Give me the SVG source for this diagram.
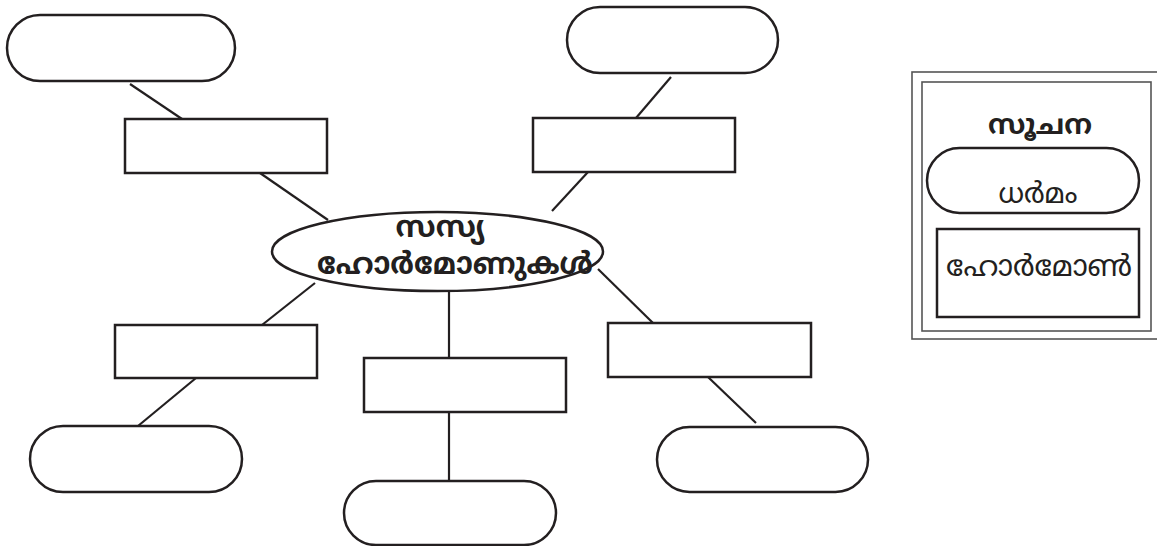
<svg xmlns="http://www.w3.org/2000/svg" width="1157" height="546" viewBox="0 0 1157 546">
<style>
.n{fill:#fff;stroke:#231f20;stroke-width:2.5}
.c{stroke:#231f20;stroke-width:2.2;fill:none}
.f{fill:none;stroke:#555;stroke-width:1.6}
.t{font-family:"Noto Sans Malayalam","Noto Sans","DejaVu Sans",sans-serif;fill:#231f20;text-anchor:middle}
.b{font-weight:bold}
</style>
<rect width="1157" height="546" fill="#fff"/>
<g id="connectors">
<line class="c" x1="130" y1="84" x2="182" y2="119"/>
<line class="c" x1="260" y1="173" x2="328" y2="220"/>
<line class="c" x1="671" y1="77" x2="636" y2="118"/>
<line class="c" x1="588" y1="172" x2="552" y2="211"/>
<line class="c" x1="598" y1="269" x2="653" y2="323"/>
<line class="c" x1="708" y1="377" x2="756" y2="423"/>
<line class="c" x1="315" y1="283" x2="262" y2="325"/>
<line class="c" x1="196" y1="378" x2="138" y2="426"/>
<line class="c" x1="449" y1="291" x2="449" y2="358"/>
<line class="c" x1="449" y1="412" x2="449" y2="481"/>
</g>
<g id="center"><ellipse class="n" cx="437.5" cy="251.5" rx="165.5" ry="39.5"/>
<text class="t b" x="440" y="237" font-size="30">സസ്യ</text>
<text class="t b" x="455" y="274" font-size="30" textLength="276" lengthAdjust="spacingAndGlyphs">ഹോർമോണുകൾ</text></g>
<g id="tl-func"><rect class="n" x="7" y="15" width="228" height="66" rx="33"/></g>
<g id="tl-horm"><rect class="n" x="125" y="119" width="202" height="54"/></g>
<g id="tr-func"><rect class="n" x="567" y="7" width="211" height="66" rx="33"/></g>
<g id="tr-horm"><rect class="n" x="533" y="118" width="202" height="54"/></g>
<g id="bl-horm"><rect class="n" x="115" y="325" width="202" height="53"/></g>
<g id="bl-func"><rect class="n" x="30" y="426" width="212" height="66" rx="33"/></g>
<g id="bc-horm"><rect class="n" x="364" y="358" width="202" height="54"/></g>
<g id="bc-func"><rect class="n" x="344" y="481" width="212" height="64" rx="32"/></g>
<g id="br-horm"><rect class="n" x="608" y="323" width="203" height="54"/></g>
<g id="br-func"><rect class="n" x="657" y="427" width="211" height="65" rx="32.5"/></g>
<g id="legend">
<rect class="f" x="912" y="72" width="246" height="267"/>
<rect class="f" x="922" y="82" width="229" height="249"/>
<text class="t b" x="1040" y="134" font-size="28">സൂചന</text>
<rect class="n" x="927" y="148" width="212" height="65" rx="32.5"/>
<text class="t" x="1038" y="203" font-size="28">ധർമം</text>
<rect class="n" x="937" y="229" width="202" height="88"/>
<text class="t" x="1039" y="276" font-size="29" textLength="186" lengthAdjust="spacingAndGlyphs">ഹോർമോൺ</text>
</g>
</svg>
